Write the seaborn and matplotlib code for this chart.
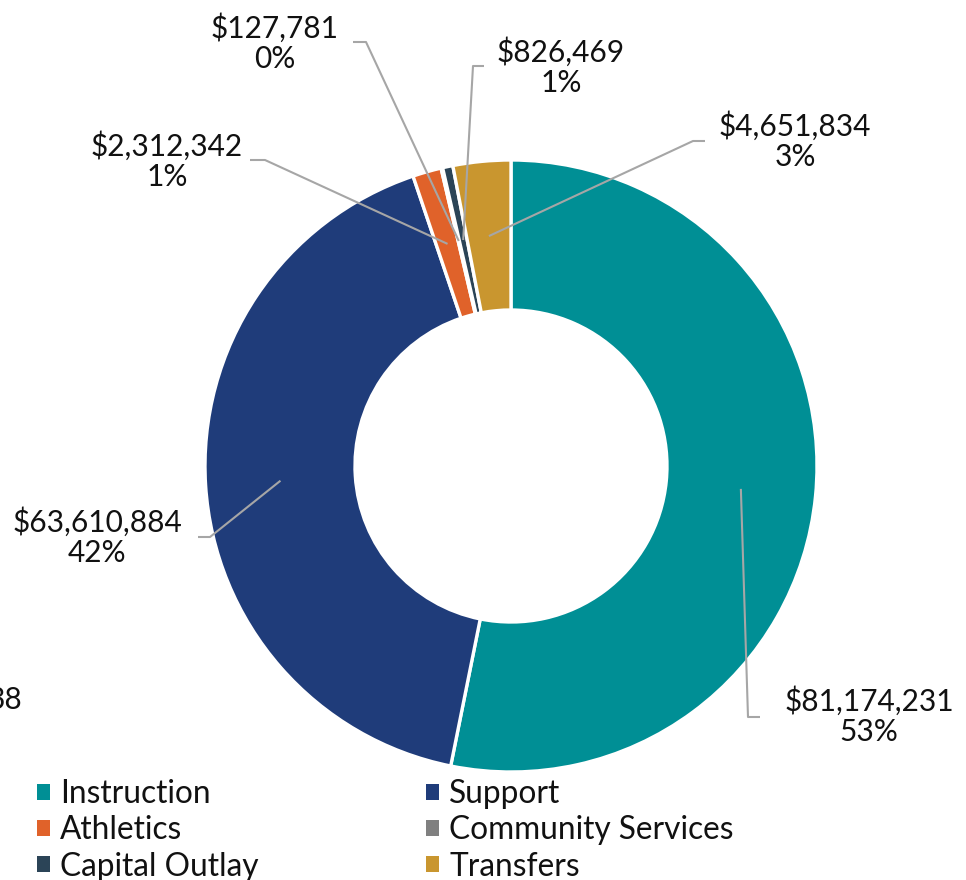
import numpy as np
import matplotlib
matplotlib.use("Agg")
import matplotlib.pyplot as plt
from matplotlib.patches import Patch
import seaborn as sns

# ---- data ----
categories = ["Instruction", "Support", "Athletics", "Community Services",
              "Capital Outlay", "Transfers"]
values = [81174231, 63610884, 2312342, 127781, 826469, 4651834]
pct_labels = ["53%", "42%", "1%", "0%", "1%", "3%"]
colors = ["#008F95", "#1F3C7A", "#E0622A", "#808080", "#2B4457", "#C9962F"]

sns.set_theme(style="white")
plt.rcParams["font.family"] = ["Lato", "DejaVu Sans"]

W, H = 966, 880
fig = plt.figure(figsize=(W / 100, H / 100), dpi=100)
ax = fig.add_axes([0, 0, 1, 1])

cx, cy = 511, H - 466
R = 306
ring = 150

wedges, _ = ax.pie(values, colors=colors, startangle=90, counterclock=False,
                   radius=R, center=(cx, cy),
                   wedgeprops=dict(width=ring, edgecolor="white", linewidth=2.4))
ax.set_xlim(0, W)
ax.set_ylim(0, H)
ax.set_aspect("equal")
ax.axis("off")

# label layout (pixel coords, y from top): text centre, elbow start, elbow end
layout = [
    ((869, 716), (760, 717), (748, 717)),
    ((97, 537), (198, 537), (210, 537)),
    ((167, 161), (250, 160), (265, 160)),
    ((275, 43), (353, 42), (366, 42)),
    ((561, 67), (484, 66), (473, 66)),
    ((795, 141), (705, 141), (693, 141)),
]

rmid = R - ring / 2
for w, val, pct, (tc, e1, e2) in zip(wedges, values, pct_labels, layout):
    ang = np.deg2rad((w.theta1 + w.theta2) / 2)
    axx = cx + rmid * np.cos(ang)
    axy = cy + rmid * np.sin(ang)
    xs = [e1[0], e2[0], axx]
    ys = [H - e1[1], H - e2[1], axy]
    ax.plot(xs, ys, color="#A6A6A6", lw=1.5, solid_capstyle="butt", zorder=5)
    ax.text(tc[0], H - tc[1], f"${val:,.0f}\n{pct}", ha="center", va="center",
            fontsize=21.5, color="#111111", linespacing=1.1)

# clipped label fragment at the left edge
ax.text(22, H - 700, "38", ha="right", va="center", fontsize=21.5, color="#111111")

# legend in row-major order (matplotlib fills columns first)
order = [0, 2, 4, 1, 3, 5]
handles = [Patch(facecolor=colors[i], edgecolor="none") for i in order]
labels = [categories[i] for i in order]
fig.legend(handles, labels, ncol=2, loc="upper left",
           bbox_to_anchor=(21 / W, 1 - 763 / H), frameon=False,
           fontsize=22.8, handlelength=0.4, handleheight=0.4,
           handletextpad=0.33, labelspacing=0.2, columnspacing=5.3,
           borderpad=0, labelcolor="#111111")

fig.savefig("out.png", dpi=100)
